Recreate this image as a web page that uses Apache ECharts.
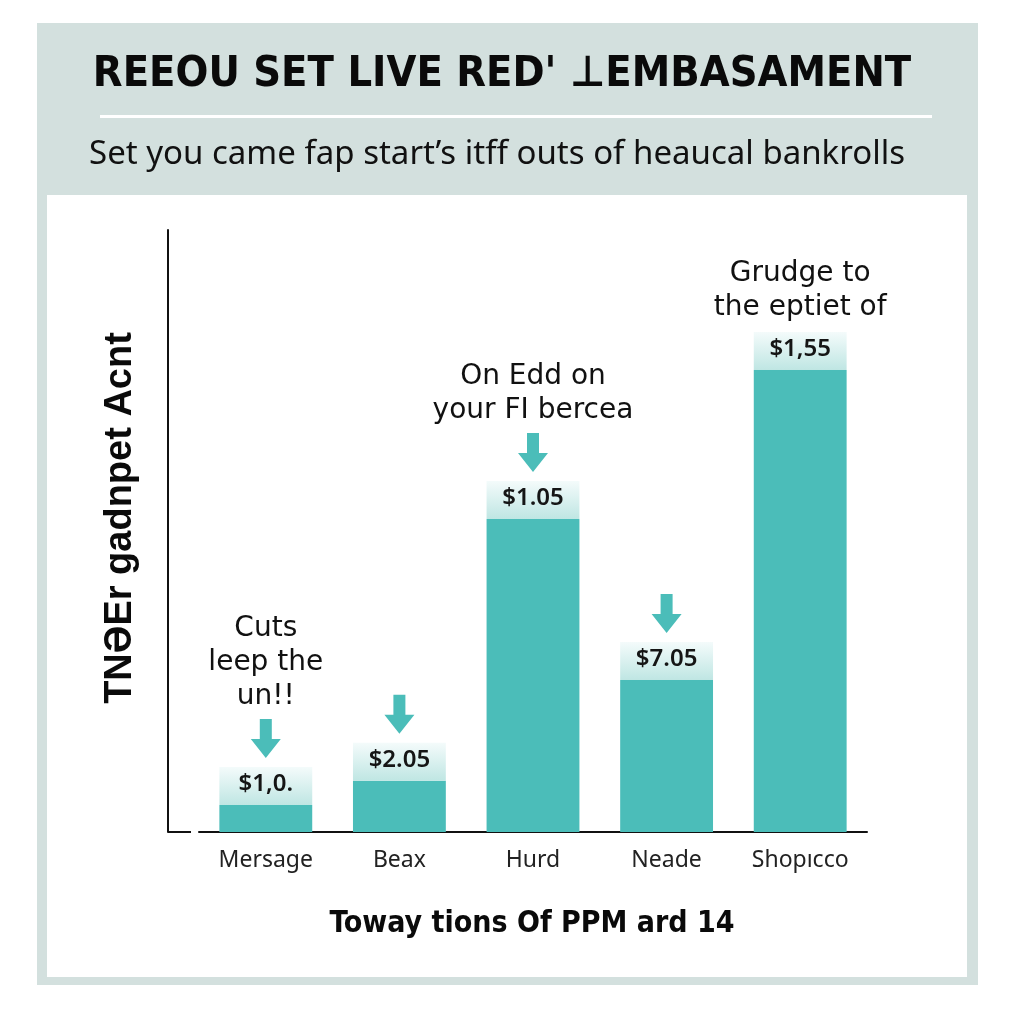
<!DOCTYPE html>
<html>
<head>
<meta charset="utf-8">
<script src="https://cdn.jsdelivr.net/npm/echarts@6/dist/echarts.min.js"></script>
<style>html,body{margin:0;padding:0;background:#fff}#c{width:1024px;height:1024px}</style>
</head>
<body>
<div id="c"></div>
<script>
const titleText = "REEOU SET LIVE RED' \u22A5EMBASAMENT";
const subtitleText = "Set you came fap start\u2019s itff outs of heaucal bankrolls";
const yAxisTitle = "TN\u018FEr gadnpet Acnt";
const xAxisTitle = "Toway tions Of PPM ard 14";
const categories = ["Mersage", "Beax", "Hurd", "Neade", "Shop\u0131cco"];
const values = [0.09, 0.17, 1.04, 0.505, 1.535];
const valueLabels = ["$1,0.", "$2.05", "$1.05", "$7.05", "$1,55"];
const notes = ["Cuts\nleep the\nun!!", "", "On Edd on\nyour FI bercea", "", "Grudge to\nthe eptiet of"];
const hasArrow = [true, true, true, true, false];

const TEAL = '#4bbdb9';
const chart = echarts.init(document.getElementById('c'), null, {renderer: 'canvas'});

const option = {
  backgroundColor: '#ffffff',
  animation: false,
  graphic: [
    {type: 'rect', z: -10, shape: {x: 37, y: 23, width: 941, height: 962}, style: {fill: '#d3e0de'}},
    {type: 'rect', z: -9, shape: {x: 47, y: 195, width: 920, height: 782}, style: {fill: '#ffffff'}},
    {type: 'rect', z: -8, shape: {x: 100, y: 115, width: 832, height: 3}, style: {fill: '#ffffff'}},
    {type: 'text', x: 502, y: 75, style: {text: titleText, align: 'center', verticalAlign: 'middle', font: 'bold 43px "DejaVu Sans Condensed", sans-serif', fill: '#0a0a0a'}},
    {type: 'text', x: 497, y: 155, style: {text: subtitleText, align: 'center', verticalAlign: 'middle', font: '33px "Noto Sans", sans-serif', fill: '#111'}},
    {type: 'text', x: 532, y: 924, style: {text: xAxisTitle, align: 'center', verticalAlign: 'middle', font: 'bold 30px "DejaVu Sans Condensed", sans-serif', fill: '#0a0a0a'}},
    {type: 'text', x: 102, y: 518, rotation: Math.PI/2, style: {text: yAxisTitle, font: 'bold 38px "Liberation Sans", Arial, sans-serif', fill: '#0a0a0a', align: 'center', verticalAlign: 'top'}}
  ],
  grid: {left: 199, right: 157, top: 230, bottom: 192, containLabel: false},
  xAxis: {
    type: 'category',
    data: categories,
    axisLine: {show: true, lineStyle: {color: '#111', width: 2}},
    axisTick: {show: false},
    axisLabel: {margin: 17, fontSize: 23, color: '#222', fontFamily: '"Noto Sans", sans-serif'}
  },
  yAxis: {
    type: 'value',
    min: 0, max: 2,
    offset: 31,
    splitLine: {show: false},
    axisLine: {show: true, lineStyle: {color: '#111', width: 2}},
    axisTick: {show: true, inside: true, length: 23, lineStyle: {color: '#111', width: 2}, customValues: [0]},
    axisLabel: {show: false}
  },
  series: [
    {
      type: 'bar',
      data: values,
      barWidth: '69.5%',
      itemStyle: {color: TEAL},
      z: 2
    },
    {
      type: 'custom',
      z: 5,
      data: values.map((v, i) => [i, v]),
      renderItem: function (params, api) {
        const i = api.value(0);
        const v = api.value(1);
        const p = api.coord([i, v]);
        const w = api.size([1, 0])[0] * 0.695;
        const boxH = 38;
        const boxTop = p[1] - boxH;
        const children = [
          {
            type: 'rect',
            shape: {x: p[0] - w / 2, y: boxTop, width: w, height: boxH},
            style: {fill: new echarts.graphic.LinearGradient(0, 0, 0, 1, [
              {offset: 0, color: '#f4fbfb'},
              {offset: 1, color: '#bfe6e3'}
            ])}
          },
          {
            type: 'text',
            style: {text: valueLabels[i], x: p[0], y: boxTop + boxH / 2 - 2, align: 'center', verticalAlign: 'middle',
              font: '600 24px "Noto Sans", sans-serif', fill: '#151515'}
          }
        ];
        let y = boxTop;
        if (hasArrow[i]) {
          const aBot = y - 9, aTop = y - 48, headH = 19, sw = 6, hw = 15;
          children.push({
            type: 'polygon',
            shape: {points: [
              [p[0] - sw, aTop], [p[0] + sw, aTop], [p[0] + sw, aBot - headH],
              [p[0] + hw, aBot - headH], [p[0], aBot], [p[0] - hw, aBot - headH],
              [p[0] - sw, aBot - headH]
            ]},
            style: {fill: TEAL}
          });
          y = aTop + 2;
        }
        if (notes[i]) {
          children.push({
            type: 'text',
            style: {text: notes[i], x: p[0], y: y - 7, align: 'center', verticalAlign: 'bottom',
              font: '28px "DejaVu Sans", sans-serif', lineHeight: 34, fill: '#111'}
          });
        }
        return {type: 'group', children: children};
      }
    }
  ]
};
chart.setOption(option);
</script>
</body>
</html>
